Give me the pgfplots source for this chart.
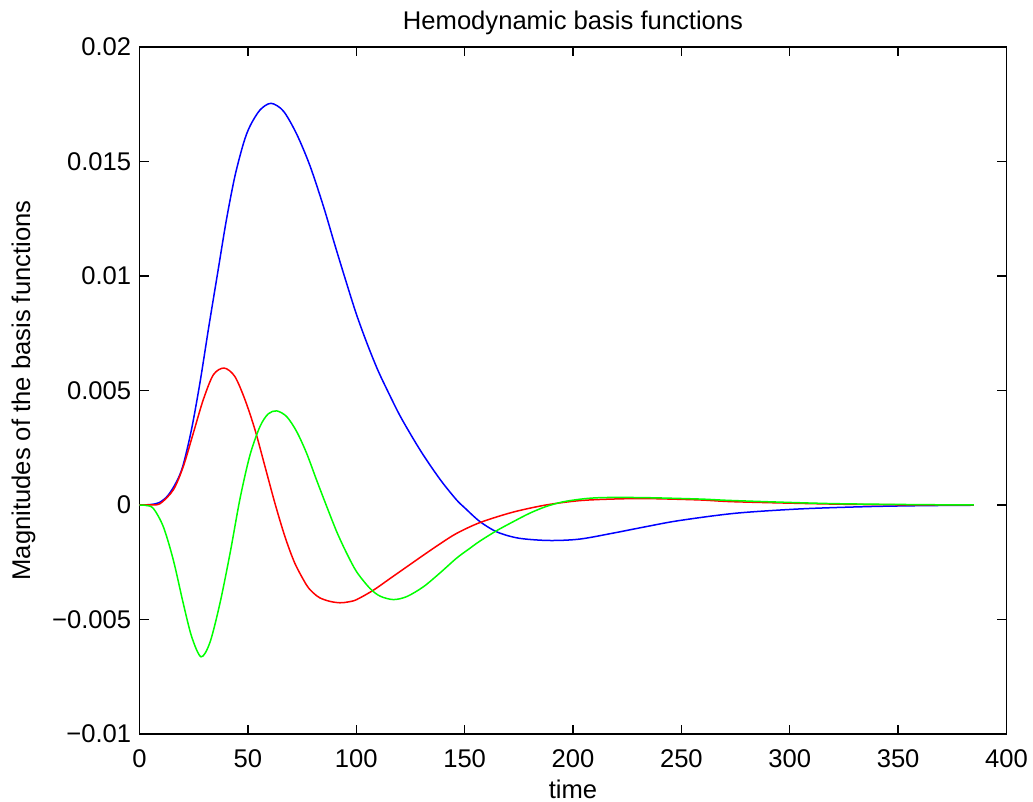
\documentclass[border=0pt]{standalone}
\usepackage{fontspec}
\setmainfont{Liberation Sans}
\usepackage{pgfplots}
\usepackage{pgfplotstable}
\pgfplotsset{compat=1.18}
\pgfplotstableread{
t v
0 0
5 0.00002
9 0.0001
13 0.0004
17 0.0010
20 0.0017
24 0.0033
28 0.0054
32 0.0078
36 0.0101
40 0.0124
44 0.01435
48 0.0158
51 0.01655
55.6 0.01725
60.7 0.01754
66.4 0.0172
72.5 0.0162
78.7 0.0148
85 0.0130
90 0.0114
95 0.00985
100 0.00835
105 0.00705
110 0.00588
115 0.00488
120 0.00393
125 0.00310
130 0.00232
135 0.00161
140 0.00095
146.3 0.00022
150 -0.00012
157 -0.00072
165 -0.00118
175 -0.00145
189 -0.00155
203 -0.00149
218.4 -0.00123
234 -0.00094
249 -0.00068
275 -0.00036
305 -0.00017
336 -0.00007
360 -0.00003
385 -0.00001
}\hrfblue
\pgfplotstableread{
t v
0 0
5 0.00001
9.5 0.00006
15.6 0.00066
20.2 0.00168
24.8 0.00313
29.4 0.00459
34.1 0.00569
39.1 0.00598
44 0.00561
48.7 0.00459
53.3 0.00328
57.9 0.00168
62.5 0.00007
67.1 -0.00138
71.7 -0.00255
77.1 -0.0035
80.2 -0.00384
83.3 -0.00406
87.9 -0.00421
92.5 -0.00427
96.5 -0.00423
100.2 -0.00413
107.9 -0.00372
115.6 -0.00321
123.3 -0.0027
131 -0.00219
138.6 -0.00170
146.3 -0.00124
157 -0.00077
172 -0.00032
187.5 0
203 0.00019
218.4 0.00026
234 0.00028
258.6 0.00022
275 0.00014
320 0.00004
350 0.00001
385 0
}\hrfred
\pgfplotstableread{
t v
0 0
3 -0.00002
6.4 -0.00015
11 -0.00095
15.6 -0.0024
20.2 -0.0043
24.1 -0.00576
28.4 -0.00663
32.5 -0.0060
37.1 -0.0043
41.8 -0.0021
46.4 0.00029
51 0.00219
55.6 0.00343
59.4 0.00398
63.3 0.00411
67.9 0.00386
72.5 0.00321
77.1 0.00226
81.7 0.00109
86.4 -0.00007
91 -0.00117
95.6 -0.00211
100.2 -0.00292
106.3 -0.00364
111 -0.00398
117.1 -0.00413
123.3 -0.0040
131 -0.00357
138.6 -0.00297
146.3 -0.00232
152 -0.00192
157 -0.00158
164.8 -0.00112
172 -0.00075
180 -0.00036
187.5 -0.00007
195 0.00013
203 0.00025
210 0.00031
218.4 0.00033
234 0.00032
258.6 0.00026
275 0.00019
320 0.00006
368 0.00001
385 0
}\hrfgreen
\begin{document}
\begin{tikzpicture}[font=\fontsize{12.8pt}{15pt}\selectfont]
\useasboundingbox (-69.75pt,-34pt) rectangle (446.75pt,367pt);
\begin{axis}[
  scale only axis,
  width=433.5pt, height=343.5pt,
  xmin=0, xmax=400, ymin=-0.01, ymax=0.02,
  xtick={0,50,100,150,200,250,300,350,400},
  xticklabels={0,50,100,150,200,250,300,350,400},
  ytick={-0.01,-0.005,0,0.005,0.01,0.015,0.02},
  yticklabels={−0.01,−0.005,0,0.005,0.01,0.015,0.02},
  scaled y ticks=false,
  tick align=inside,
  major tick length=4.65pt,
  axis line style={line width=0.65pt},
  tick style={line width=0.65pt, black},
  xticklabel style={inner sep=0pt, yshift=-7.5pt},
  yticklabel style={inner sep=0pt, xshift=-4pt},
  title={Hemodynamic basis functions},
  title style={at={(axis description cs:0.5,1)}, anchor=base, yshift=2.5pt, inner sep=0pt},
  xlabel={time},
  xlabel style={at={(axis description cs:0.5,0)}, anchor=base, yshift=-32.5pt, inner sep=0pt},
  ylabel={Magnitudes of the basis functions},
  ylabel style={at={(axis description cs:-0.1338,0.5)}, anchor=center, inner sep=0pt},
  every axis plot/.append style={line width=0.75pt, smooth, no marks},
]
\addplot[blue] table[x=t,y=v] {\hrfblue};
\addplot[red] table[x=t,y=v] {\hrfred};
\addplot[green] table[x=t,y=v] {\hrfgreen};
\end{axis}
\end{tikzpicture}
\end{document}
